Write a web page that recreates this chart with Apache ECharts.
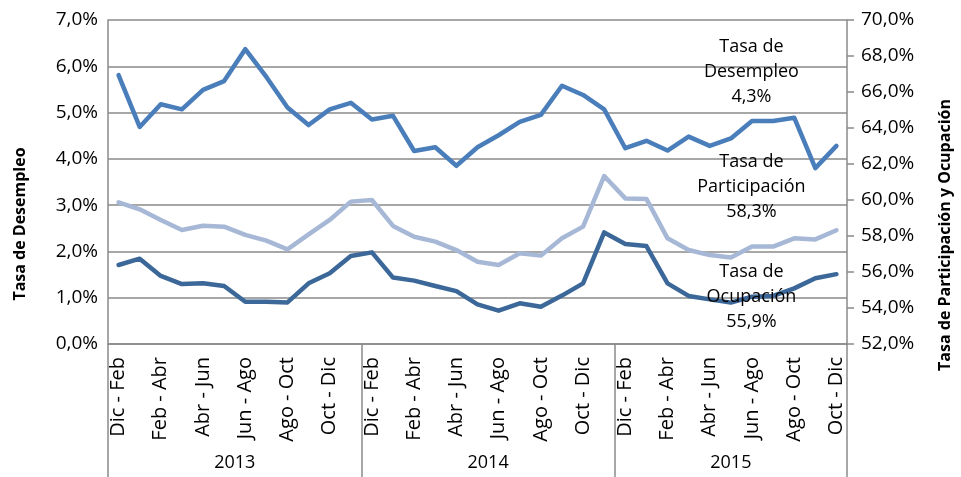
<!DOCTYPE html>
<html>
<head>
<meta charset="utf-8">
<script src="https://cdn.jsdelivr.net/npm/echarts@6/dist/echarts.min.js"></script>
<style>
  html, body { margin: 0; padding: 0; background: #fff; }
  #chart { width: 961px; height: 477px; }
</style>
</head>
<body>
<div id="chart"></div>
<script>
// periodos trimestrales móviles
const periods = ['Dic - Feb', 'Ene - Mar', 'Feb - Abr', 'Mar - May', 'Abr - Jun', 'May - Jul',
  'Jun - Ago', 'Jul - Sep', 'Ago - Oct', 'Sep - Nov', 'Oct - Dic', 'Nov - Ene']
const years = ['2013', '2014', '2015']
const periodsPerYear = [12, 12, 11]

const desempleo = [5.81, 4.69, 5.18, 5.07, 5.49, 5.68, 6.37, 5.77, 5.11, 4.73, 5.07, 5.21,
  4.85, 4.93, 4.17, 4.25, 3.85, 4.25, 4.51, 4.80, 4.95, 5.58, 5.38, 5.07,
  4.23, 4.39, 4.18, 4.48, 4.28, 4.44, 4.82, 4.82, 4.89, 3.80, 4.28]
const participacion = [59.87, 59.48, 58.89, 58.33, 58.57, 58.52, 58.06, 57.74, 57.26, 58.09, 58.89, 59.91,
  60.00, 58.56, 57.96, 57.69, 57.22, 56.57, 56.39, 57.04, 56.91, 57.87, 58.52, 61.33,
  60.09, 60.06, 57.87, 57.22, 56.94, 56.80, 57.41, 57.41, 57.87, 57.81, 58.32]
const ocupacion = [56.39, 56.74, 55.78, 55.33, 55.37, 55.22, 54.35, 54.35, 54.31, 55.37, 55.93, 56.89,
  57.09, 55.69, 55.52, 55.22, 54.94, 54.20, 53.85, 54.26, 54.07, 54.69, 55.37, 58.20,
  57.56, 57.44, 55.37, 54.67, 54.48, 54.30, 54.63, 54.67, 55.09, 55.65, 55.88]

const leftTicks = { min: 0, max: 7, interval: 1 }
const rightTicks = { min: 52, max: 70, interval: 2 }

// categorias completas y posicion de cada año
const categories = []
const yearStart = []
periodsPerYear.forEach((n, y) => {
  yearStart.push(categories.length)
  for (let i = 0; i < n; i++) categories.push(periods[i])
})
const yearLabelAt = {}
periodsPerYear.forEach((n, y) => {
  const idx = yearStart[y] + Math.floor(n / 2)
  yearLabelAt[idx] = { text: years[y], even: n % 2 === 0 }
})

const font = 'Open Sans'
const pct = v => v.toFixed(1).replace('.', ',') + '%'
const gray = '#8a8a8a'

const chart = echarts.init(document.getElementById('chart'))

function endLabel(title, offset) {
  return {
    show: true,
    formatter: p => title + '\n' + pct(p.value),
    color: '#000',
    fontFamily: font,
    fontSize: 18,
    lineHeight: 25,
    align: 'center',
    verticalAlign: 'middle',
    distance: 0,
    offset: offset,
  }
}

const option = {
  animation: false,
  grid: { left: 108, right: 111, top: 20, bottom: 133 },
  xAxis: [
    {
      type: 'category',
      data: categories,
      boundaryGap: true,
      axisLine: { onZero: false, lineStyle: { color: gray, width: 1.5 } },
      axisTick: { show: false },
      axisLabel: {
        interval: 1,
        rotate: 90,
        margin: 13,
        color: '#000',
        fontFamily: font,
        fontSize: 20,
      },
    },
    {
      type: 'category',
      data: categories,
      position: 'bottom',
      boundaryGap: true,
      axisLine: { show: false },
      axisTick: {
        show: true,
        interval: i => yearStart.includes(i),
        length: 140,
        lineStyle: { color: gray, width: 1.5 },
      },
      axisLabel: {
        interval: i => yearLabelAt[i] !== undefined,
        margin: 110,
        formatter: (v, i) => {
          const y = yearLabelAt[i]
          if (!y) return ''
          return y.even ? '{e|' + y.text + '}' : '{o|' + y.text + '}'
        },
        rich: {
          e: { fontFamily: font, fontSize: 18, color: '#000', padding: [0, 21, 0, 0] },
          o: { fontFamily: font, fontSize: 18, color: '#000' },
        },
      },
    },
  ],
  yAxis: [
    {
      type: 'value',
      ...leftTicks,
      name: 'Tasa de Desempleo',
      nameLocation: 'middle',
      nameRotate: 90,
      nameGap: 80,
      nameTextStyle: { fontFamily: font, fontSize: 16, fontWeight: 'bold', color: '#000', padding: [0, 84, 0, 0] },
      axisLine: { show: true, lineStyle: { color: gray, width: 1.5 } },
      axisTick: { show: false },
      axisLabel: { formatter: pct, color: '#000', fontFamily: font, fontSize: 19, margin: 10 },
      splitLine: { lineStyle: { color: gray, width: 1.5 } },
    },
    {
      type: 'value',
      ...rightTicks,
      position: 'right',
      name: 'Tasa de Participación y Ocupación',
      nameLocation: 'middle',
      nameRotate: 90,
      nameGap: 90,
      nameTextStyle: { fontFamily: font, fontSize: 16, fontWeight: 'bold', color: '#000', padding: [0, 106, 0, 0] },
      axisLine: { show: true, lineStyle: { color: gray, width: 1.5 } },
      axisTick: { show: true, inside: false, length: 7, lineStyle: { color: gray, width: 1.5 } },
      axisLabel: { formatter: pct, color: '#000', fontFamily: font, fontSize: 19, margin: 14 },
      splitLine: { show: false },
    },
  ],
  series: [
    {
      name: 'Tasa de Desempleo',
      type: 'line',
      yAxisIndex: 0,
      data: desempleo,
      showSymbol: false,
      color: '#4a7ebb',
      lineStyle: { width: 4.5, join: 'round', cap: 'round' },
      endLabel: endLabel('Tasa de\nDesempleo', [-85, -74]),
    },
    {
      name: 'Tasa de Participación',
      type: 'line',
      yAxisIndex: 1,
      data: participacion,
      showSymbol: false,
      color: '#a6b8d6',
      lineStyle: { width: 4.5, join: 'round', cap: 'round' },
      endLabel: endLabel('Tasa de\nParticipación', [-85, -43]),
    },
    {
      name: 'Tasa de Ocupación',
      type: 'line',
      yAxisIndex: 1,
      data: ocupacion,
      showSymbol: false,
      color: '#3c6899',
      lineStyle: { width: 4.5, join: 'round', cap: 'round' },
      endLabel: endLabel('Tasa de\nOcupación', [-85, 23]),
    },
  ],
}
chart.setOption(option)
</script>
</body>
</html>
